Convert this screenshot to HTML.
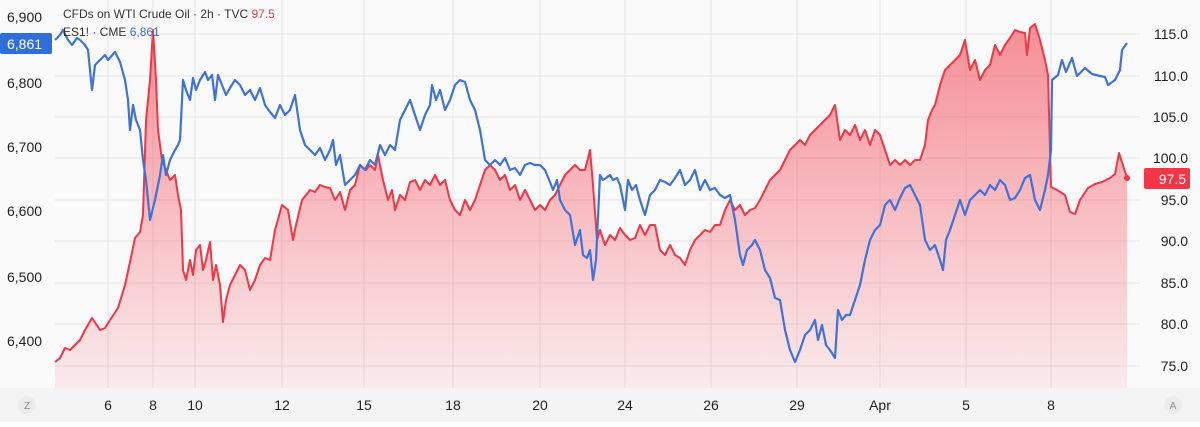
<!DOCTYPE html>
<html><head><meta charset="utf-8"><style>
body{margin:0;width:1200px;height:422px;background:#fff;overflow:hidden;font-family:"Liberation Sans",sans-serif}
</style></head><body>
<svg width="1200" height="422" xmlns="http://www.w3.org/2000/svg" font-family="Liberation Sans, sans-serif">
<defs><linearGradient id="g" x1="0" y1="0" x2="0" y2="1"><stop offset="0" stop-color="#f23645" stop-opacity="0.55"/><stop offset="1" stop-color="#f23645" stop-opacity="0.08"/></linearGradient></defs>
<rect x="0" y="0" width="1200" height="422" fill="#fafafa"/>
<rect x="0" y="388" width="1200" height="34" fill="#f4f4f4"/>
<g stroke="#e4e4e4" stroke-width="1">
<line x1="55" y1="34" x2="1140" y2="34"/><line x1="55" y1="76" x2="1140" y2="76"/><line x1="55" y1="117" x2="1140" y2="117"/><line x1="55" y1="158" x2="1140" y2="158"/><line x1="55" y1="200" x2="1140" y2="200"/><line x1="55" y1="241" x2="1140" y2="241"/><line x1="55" y1="283" x2="1140" y2="283"/><line x1="55" y1="324" x2="1140" y2="324"/><line x1="55" y1="366" x2="1140" y2="366"/>
<line x1="108" y1="0" x2="108" y2="388"/><line x1="153" y1="0" x2="153" y2="388"/><line x1="195" y1="0" x2="195" y2="388"/><line x1="282" y1="0" x2="282" y2="388"/><line x1="364" y1="0" x2="364" y2="388"/><line x1="453" y1="0" x2="453" y2="388"/><line x1="540" y1="0" x2="540" y2="388"/><line x1="625" y1="0" x2="625" y2="388"/><line x1="711" y1="0" x2="711" y2="388"/><line x1="797" y1="0" x2="797" y2="388"/><line x1="880" y1="0" x2="880" y2="388"/><line x1="966" y1="0" x2="966" y2="388"/><line x1="1051" y1="0" x2="1051" y2="388"/>
</g>
<polygon fill="url(#g)" points="55,388 55,362 60,358 65,348 70,350 75,345 80,340 85,330 92,318 100,330 105,328 110,320 118,308 125,285 130,262 135,238 140,232 143,215 146,120 150,80 153,30 156,80 158,130 162,160 166,170 170,180 175,175 178,195 181,210 183,270 186,280 190,260 193,275 196,250 200,245 203,270 206,260 210,242 213,280 216,265 220,285 223,322 226,300 230,285 235,275 240,265 245,270 250,290 255,280 260,265 265,258 270,260 275,230 282,205 288,210 293,240 296,225 302,200 310,190 315,192 320,185 325,187 330,188 335,200 340,192 345,210 350,190 355,185 360,165 366,170 370,165 375,170 378,155 383,180 388,200 392,190 395,210 400,195 405,200 410,182 415,180 420,190 425,180 430,185 435,175 440,185 445,180 450,200 455,210 460,215 465,200 470,210 475,200 480,185 485,170 490,165 495,170 500,180 505,175 510,190 515,185 520,200 525,190 530,200 535,210 540,205 545,210 550,200 555,195 560,185 565,175 570,170 575,165 580,170 585,170 590,150 593,185 597,240 600,230 605,245 610,235 615,240 620,228 625,235 630,240 635,238 640,225 645,235 650,225 655,225 660,250 665,255 670,245 675,255 680,258 685,265 690,250 695,240 700,235 705,230 710,232 715,225 720,225 725,210 730,200 735,210 740,205 745,215 750,210 755,208 760,200 765,190 770,180 775,175 780,170 785,160 790,150 795,145 800,140 805,145 810,135 815,130 820,125 825,120 830,115 835,105 840,140 845,130 850,135 855,125 860,140 865,130 870,145 875,130 880,135 885,150 890,165 895,160 900,165 905,160 910,165 915,160 920,160 925,145 928,120 932,110 935,105 940,85 945,70 950,65 955,60 960,55 965,40 970,70 975,60 980,80 985,70 990,65 995,45 1000,55 1005,45 1010,38 1015,30 1020,32 1025,33 1027,55 1030,28 1035,24 1040,40 1045,60 1048,75 1051,187 1057,190 1065,195 1070,212 1075,214 1080,200 1088,188 1095,184 1102,182 1110,178 1115,174 1119,153 1127,178 1127,388"/>
<polyline fill="none" stroke="#f23645" stroke-width="2" stroke-linejoin="round" points="55,362 60,358 65,348 70,350 75,345 80,340 85,330 92,318 100,330 105,328 110,320 118,308 125,285 130,262 135,238 140,232 143,215 146,120 150,80 153,30 156,80 158,130 162,160 166,170 170,180 175,175 178,195 181,210 183,270 186,280 190,260 193,275 196,250 200,245 203,270 206,260 210,242 213,280 216,265 220,285 223,322 226,300 230,285 235,275 240,265 245,270 250,290 255,280 260,265 265,258 270,260 275,230 282,205 288,210 293,240 296,225 302,200 310,190 315,192 320,185 325,187 330,188 335,200 340,192 345,210 350,190 355,185 360,165 366,170 370,165 375,170 378,155 383,180 388,200 392,190 395,210 400,195 405,200 410,182 415,180 420,190 425,180 430,185 435,175 440,185 445,180 450,200 455,210 460,215 465,200 470,210 475,200 480,185 485,170 490,165 495,170 500,180 505,175 510,190 515,185 520,200 525,190 530,200 535,210 540,205 545,210 550,200 555,195 560,185 565,175 570,170 575,165 580,170 585,170 590,150 593,185 597,240 600,230 605,245 610,235 615,240 620,228 625,235 630,240 635,238 640,225 645,235 650,225 655,225 660,250 665,255 670,245 675,255 680,258 685,265 690,250 695,240 700,235 705,230 710,232 715,225 720,225 725,210 730,200 735,210 740,205 745,215 750,210 755,208 760,200 765,190 770,180 775,175 780,170 785,160 790,150 795,145 800,140 805,145 810,135 815,130 820,125 825,120 830,115 835,105 840,140 845,130 850,135 855,125 860,140 865,130 870,145 875,130 880,135 885,150 890,165 895,160 900,165 905,160 910,165 915,160 920,160 925,145 928,120 932,110 935,105 940,85 945,70 950,65 955,60 960,55 965,40 970,70 975,60 980,80 985,70 990,65 995,45 1000,55 1005,45 1010,38 1015,30 1020,32 1025,33 1027,55 1030,28 1035,24 1040,40 1045,60 1048,75 1051,187 1057,190 1065,195 1070,212 1075,214 1080,200 1088,188 1095,184 1102,182 1110,178 1115,174 1119,153 1127,178"/>
<circle cx="1127" cy="178" r="3" fill="#f23645"/>
<polyline fill="none" stroke="#3f72d8" stroke-width="2.2" stroke-linejoin="round" points="55,40 60,35 63,30 68,40 72,45 77,38 80,40 85,45 88,50 92,90 95,65 100,60 105,55 108,60 115,52 120,62 125,80 128,100 130,130 133,105 136,120 140,130 143,160 146,180 150,220 155,200 160,175 163,155 166,175 170,160 175,150 178,145 180,140 183,80 186,90 190,100 193,78 196,90 200,80 205,72 208,80 212,75 215,100 218,75 222,85 226,95 230,88 235,80 240,85 245,95 250,90 255,100 260,88 265,105 270,112 275,118 280,105 285,115 290,110 295,95 300,130 305,145 310,150 315,155 320,148 325,160 330,150 333,140 336,165 340,155 345,185 350,180 355,175 360,165 365,170 370,160 375,165 380,145 385,155 390,145 395,150 400,120 405,110 410,100 415,115 420,130 425,115 430,105 432,85 436,100 440,90 445,110 450,100 455,85 460,80 465,82 470,100 475,110 480,130 485,160 490,165 495,160 500,165 505,158 510,170 515,168 520,175 525,165 530,163 535,165 540,165 545,170 550,182 553,190 557,180 560,200 565,210 570,215 575,245 580,230 583,255 587,258 590,250 593,280 596,260 600,175 603,180 606,178 610,175 613,180 617,178 620,185 625,210 628,180 632,190 636,185 640,200 645,215 650,195 655,190 660,180 665,182 670,185 675,178 680,170 685,185 690,180 695,170 700,190 705,180 710,190 715,188 720,195 725,198 730,195 735,220 740,255 743,265 747,250 752,245 755,240 760,250 765,270 770,278 775,298 780,300 785,330 790,350 795,362 800,350 805,335 810,330 815,320 818,340 822,325 826,345 830,350 835,358 838,310 842,320 846,315 850,315 855,300 860,285 865,260 870,240 875,230 880,225 885,205 890,200 895,210 900,198 905,188 910,185 915,195 920,205 925,240 930,250 935,245 940,260 943,270 946,240 950,230 955,215 960,200 965,215 970,200 975,195 980,190 985,195 990,185 995,190 1000,180 1005,185 1010,200 1015,198 1020,190 1025,178 1030,175 1035,200 1040,210 1045,190 1048,175 1051,150 1052,80 1058,75 1062,60 1066,72 1072,58 1077,76 1085,68 1092,74 1100,76 1105,77 1108,85 1115,80 1120,70 1122,50 1127,43"/>
<g font-size="14" fill="#222">
<text x="7" y="22">6,900</text><text x="7" y="88">6,800</text><text x="7" y="152">6,700</text><text x="7" y="216">6,600</text><text x="7" y="282">6,500</text><text x="7" y="346">6,400</text>
</g>
<rect x="0" y="33" width="52" height="21" rx="2" fill="#2f6fdb"/>
<text x="7" y="49" font-size="14" fill="#fff">6,861</text>
<g font-size="14" fill="#222" text-anchor="end">
<text x="1188" y="39">115.0</text><text x="1188" y="81">110.0</text><text x="1188" y="122">105.0</text><text x="1188" y="163">100.0</text><text x="1188" y="205">95.0</text><text x="1188" y="246">90.0</text><text x="1188" y="288">85.0</text><text x="1188" y="329">80.0</text><text x="1188" y="371">75.0</text>
</g>
<rect x="1144" y="168" width="46" height="21" rx="2" fill="#f23645"/>
<text x="1186" y="184" font-size="14" fill="#fff" text-anchor="end">97.5</text>
<g font-size="12" fill="#333">
<text x="63" y="18">CFDs on WTI Crude Oil · 2h · TVC <tspan fill="#f23645">97.5</tspan></text>
<text x="63" y="36">ES1! · CME <tspan fill="#2f6fdb">6,861</tspan></text>
</g>
<g font-size="14" fill="#222" text-anchor="middle">
<text x="108" y="410">6</text><text x="153" y="410">8</text><text x="195" y="410">10</text><text x="282" y="410">12</text><text x="364" y="410">15</text><text x="453" y="410">18</text><text x="540" y="410">20</text><text x="625" y="410">24</text><text x="711" y="410">26</text><text x="797" y="410">29</text><text x="880" y="410">Apr</text><text x="966" y="410">5</text><text x="1051" y="410">8</text>
</g>
<circle cx="27" cy="405" r="9" fill="#ebebeb"/><text x="27" y="409" font-size="10" fill="#888" text-anchor="middle">Z</text>
<circle cx="1173" cy="405" r="9" fill="#ebebeb"/><text x="1173" y="409" font-size="10" fill="#888" text-anchor="middle">A</text>
</svg>
</body></html>
